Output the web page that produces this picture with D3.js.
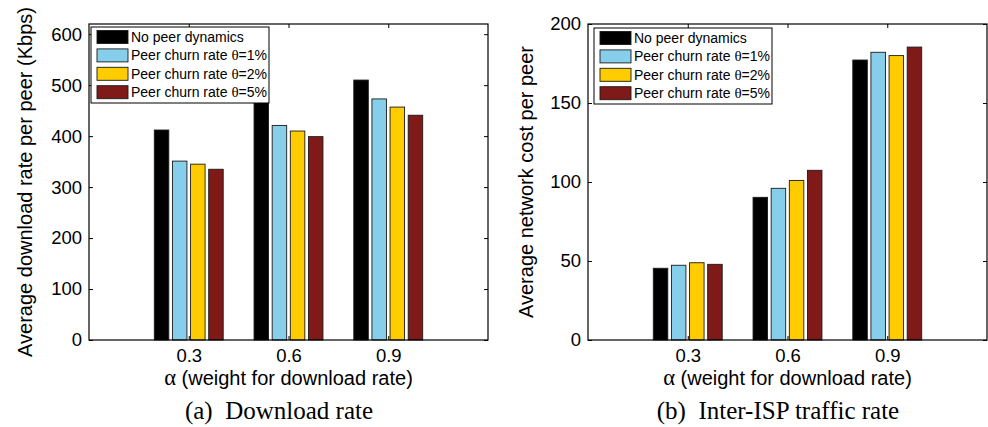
<!DOCTYPE html>
<html>
<head>
<meta charset="utf-8">
<script src="https://cdn.jsdelivr.net/npm/d3@7"></script>
<style>
  body { margin: 0; background: #fff; }
  svg { display: block; }
  text { font-family: "Liberation Sans", Arial, Helvetica, sans-serif; fill: #000; }
  .caption { font-family: "Liberation Serif", "Times New Roman", serif; }
</style>
</head>
<body>
<div id="chart"></div>
<script>
// categories (alpha values) and series
const categories = ['0.3', '0.6', '0.9']
const seriesKeys = ['none', 'churn1', 'churn2', 'churn5']
const seriesLabels = ['No peer dynamics', 'Peer churn rate θ=1%', 'Peer churn rate θ=2%', 'Peer churn rate θ=5%']
const seriesColors = ['#000000', '#87ceeb', '#ffcc00', '#801a18']

// (a) download rate (Kbps)
const rateNoDyn = [412, 475, 510]
const rateChurn1 = [351, 421, 473]
const rateChurn2 = [345, 410, 457]
const rateChurn5 = [335, 399, 441]

// (b) network cost per peer
const costNoDyn = [45.4, 90.3, 177.2]
const costChurn1 = [47.3, 96.0, 182.1]
const costChurn2 = [48.9, 101.0, 180.0]
const costChurn5 = [47.9, 107.4, 185.4]

const rateTicks = [0, 100, 200, 300, 400, 500, 600]
const costTicks = [0, 50, 100, 150, 200]

const W = 988
const H = 427

const svg = d3.select('#chart').append('svg')
  .attr('width', W)
  .attr('height', H)

function drawPanel (opts) {
  const top = 24
  const bottom = 340
  const g = svg.append('g')

  const x = d3.scaleLinear().domain([0, 4]).range([opts.x0, opts.x1])
  const y = d3.scaleLinear().domain([0, opts.ymax]).range([bottom, top])
  // position of each series inside a group (matlab style grouped bar)
  const inner = d3.scaleBand().domain(seriesKeys).range([-0.3636, 0.3636])
  const barW = inner.bandwidth() * 0.8

  const rows = categories.map((c, i) => {
    const r = { cat: c, pos: i + 1 }
    seriesKeys.forEach((k, j) => { r[k] = opts.values[j][i] })
    return r
  })

  // bars
  rows.forEach(r => {
    seriesKeys.forEach((k, j) => {
      const cx = r.pos + inner(k) + inner.bandwidth() / 2
      g.append('rect')
        .attr('x', x(cx - barW / 2))
        .attr('y', y(r[k]))
        .attr('width', x(cx + barW / 2) - x(cx - barW / 2))
        .attr('height', y(0) - y(r[k]))
        .style('fill', seriesColors[j])
        .style('stroke', '#1a1a1a')
        .style('stroke-width', 0.9)
    })
  })

  const fs = '18.5px'

  // left axis with labels, ticks inside
  g.append('g')
    .attr('transform', 'translate(' + opts.x0 + ',0)')
    .call(d3.axisLeft(y).tickValues(opts.ticks).tickSize(-4).tickSizeOuter(0).tickPadding(7))
    .call(a => a.select('.domain').remove())
    .call(a => a.selectAll('text').style('font-size', fs))

  // right axis ticks
  g.append('g')
    .attr('transform', 'translate(' + opts.x1 + ',0)')
    .call(d3.axisRight(y).tickValues(opts.ticks).tickSize(-4).tickSizeOuter(0).tickFormat(''))
    .call(a => a.select('.domain').remove())

  // bottom axis
  g.append('g')
    .attr('transform', 'translate(0,' + bottom + ')')
    .call(d3.axisBottom(x).tickValues([1, 2, 3]).tickSize(-4).tickSizeOuter(0).tickPadding(9)
      .tickFormat((d, i) => categories[i]))
    .call(a => a.select('.domain').remove())
    .call(a => a.selectAll('text').style('font-size', fs))

  // top axis ticks
  g.append('g')
    .attr('transform', 'translate(0,' + top + ')')
    .call(d3.axisTop(x).tickValues([1, 2, 3]).tickSize(-4).tickSizeOuter(0).tickFormat(''))
    .call(a => a.select('.domain').remove())

  g.selectAll('.tick line').style('stroke', '#000')
  g.selectAll('.tick text').style('fill', '#000')

  // frame
  g.append('rect')
    .attr('x', opts.x0)
    .attr('y', top)
    .attr('width', opts.x1 - opts.x0)
    .attr('height', bottom - top)
    .style('fill', 'none')
    .style('stroke', '#000')
    .style('stroke-width', 1.2)

  // axis titles
  g.append('text')
    .attr('transform', 'translate(' + opts.ytitleX + ',' + (top + bottom) / 2 + ') rotate(-90)')
    .attr('text-anchor', 'middle')
    .style('font-size', '20px')
    .text(opts.ytitle)

  const xt = g.append('text')
    .attr('x', (opts.x0 + opts.x1) / 2)
    .attr('y', 385)
    .attr('text-anchor', 'middle')
    .style('font-size', '20px')
  xt.append('tspan').style('font-family', '"Liberation Serif", serif').style('font-size', '22.5px').text('α')
  xt.append('tspan').text(' (weight for download rate)')

  // caption
  g.append('text')
    .attr('class', 'caption')
    .attr('x', opts.capX)
    .attr('y', 419)
    .attr('text-anchor', 'middle')
    .style('font-size', '25px')
    .style('white-space', 'pre')
    .text(opts.caption)

  // legend
  const lg = g.append('g').attr('transform', 'translate(' + opts.legX + ',' + opts.legY + ')')
  lg.append('rect')
    .attr('width', opts.legW)
    .attr('height', 76)
    .style('fill', '#fff')
    .style('stroke', '#000')
    .style('stroke-width', 1)
  seriesLabels.forEach((lab, j) => {
    const cy = 10 + j * 18.4
    lg.append('rect')
      .attr('x', 6)
      .attr('y', cy - 6.5)
      .attr('width', 31)
      .attr('height', 13)
      .style('fill', seriesColors[j])
      .style('stroke', '#1a1a1a')
      .style('stroke-width', 0.9)
    const t = lg.append('text')
      .attr('x', 40)
      .attr('y', cy + 5)
      .style('font-size', '14px')
    const m = lab.split('θ')
    t.append('tspan').text(m[0])
    if (m.length > 1) {
      t.append('tspan').style('font-family', '"Liberation Serif", serif').style('font-size', '15px').text('θ')
      t.append('tspan').text(m[1])
    }
  })
}

drawPanel({
  x0: 89,
  x1: 488,
  ymax: 620,
  ticks: rateTicks,
  values: [rateNoDyn, rateChurn1, rateChurn2, rateChurn5],
  ytitle: 'Average download rate per peer (Kbps)',
  ytitleX: 32,
  caption: '(a)  Download rate',
  capX: 279,
  legX: 91,
  legY: 27,
  legW: 178
})

drawPanel({
  x0: 588,
  x1: 987,
  ymax: 200,
  ticks: costTicks,
  values: [costNoDyn, costChurn1, costChurn2, costChurn5],
  ytitle: 'Average network cost per peer',
  ytitleX: 533,
  caption: '(b)  Inter-ISP traffic rate',
  capX: 778,
  legX: 594,
  legY: 28,
  legW: 178
})
</script>
</body>
</html>
